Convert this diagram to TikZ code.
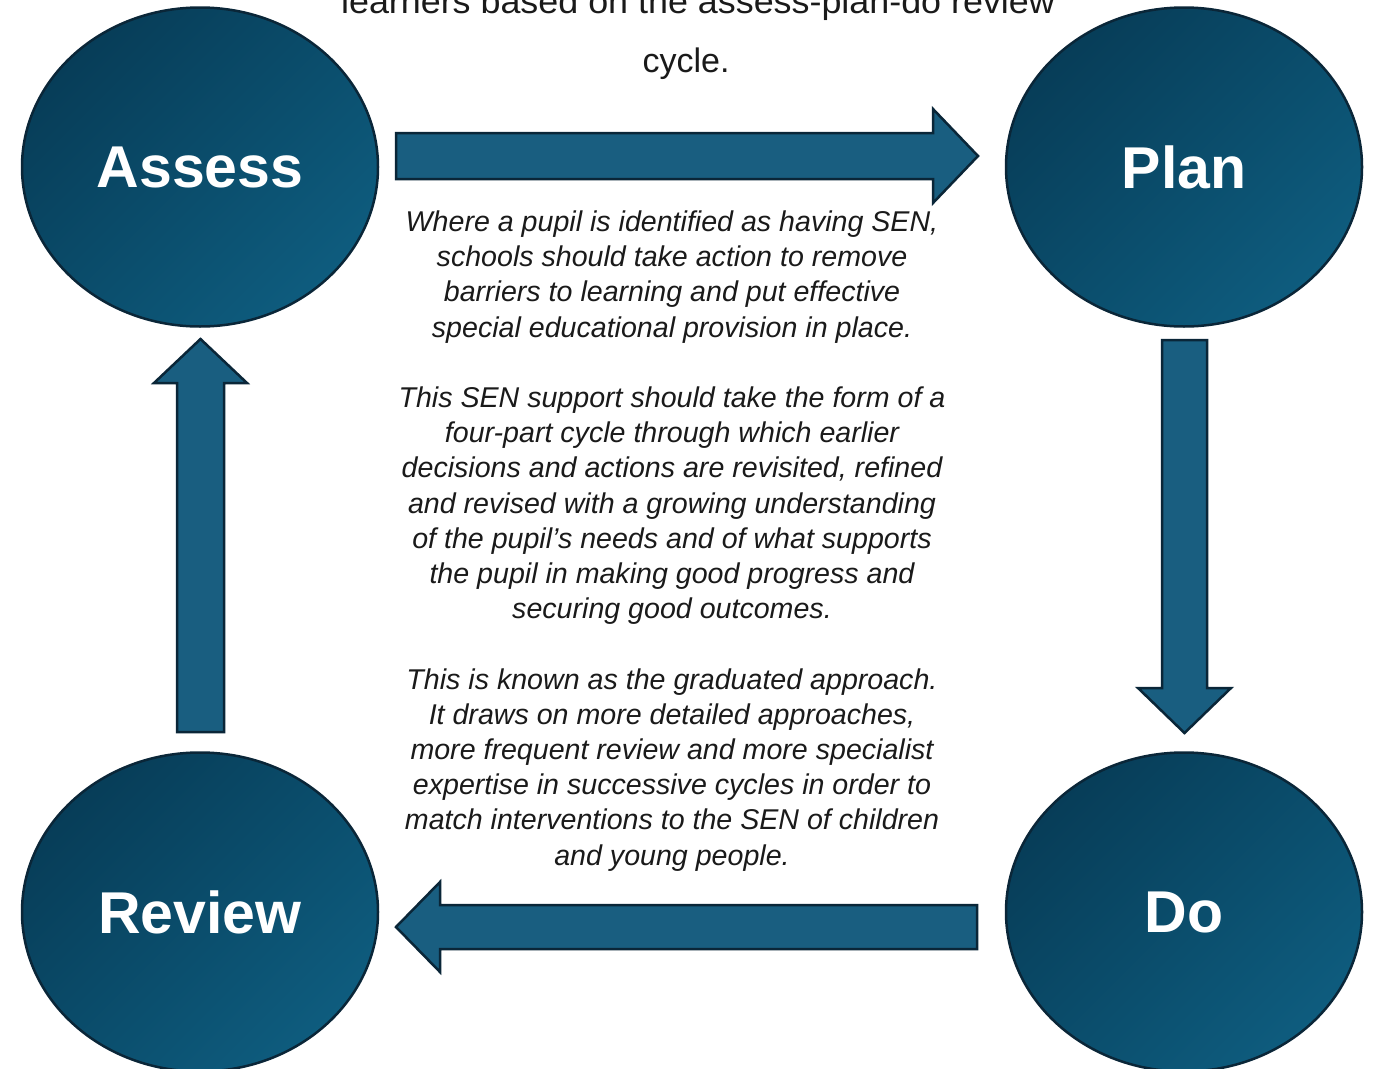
\documentclass[tikz,border=0pt]{standalone}
\usepackage{fontspec}
\setmainfont{Liberation Sans}
\usetikzlibrary{shapes.geometric}
\definecolor{cdark}{HTML}{073D58}
\definecolor{clight}{HTML}{0E5C7E}
\definecolor{carrow}{HTML}{195E80}
\definecolor{cborder}{HTML}{0A2638}
\definecolor{ctext}{HTML}{1A1A1A}
\begin{document}
\begin{tikzpicture}[x=1pt,y=-1pt,
  stage/.style={ellipse, minimum width=356pt, minimum height=319pt, inner sep=0pt,
    draw=cborder, line width=2.5pt, top color=cdark, bottom color=clight, shading angle=45,
    text=white, font=\fontsize{59}{61}\selectfont\bfseries},
  blockarrow/.style={fill=carrow, draw=cborder, line width=2.5pt, line join=miter},
  caption/.style={text=ctext, inner sep=0pt, font=\fontsize{34}{40}\selectfont},
  bodytext/.style={text=ctext, inner sep=0pt, align=center, font=\itshape\fontsize{28.6}{35.2}\selectfont}]
\useasboundingbox (0,0) rectangle (1373,1068);
\clip (0,0) rectangle (1373,1068);
\fill[white] (0,0) rectangle (1373,1068);

\node (cap1) [caption, anchor=base] at (698,13) {\scalebox{1.055}[1]{learners based on the assess-plan-do review}};
\node (cap2) [caption, anchor=base] at (686,72) {cycle.};

\node (assess) [stage] at (200,167) {Assess};
\node (plan)   [stage] at (1184,167) {Plan};
\node (review) [stage] at (200,912) {Review};
\node (do)     [stage] at (1184,912) {Do};

% Assess -> Plan
\draw[blockarrow] (396,133) -- (933,133) -- (933,109) -- (978,156) -- (933,203) -- (933,179) -- (396,179) -- cycle;
% Plan -> Do
\draw[blockarrow] (1162,340) -- (1207,340) -- (1207,688) -- (1231,688) -- (1184.5,733) -- (1138,688) -- (1162,688) -- cycle;
% Do -> Review
\draw[blockarrow] (977,905) -- (440,905) -- (440,882) -- (396,927) -- (440,972) -- (440,949) -- (977,949) -- cycle;
% Review -> Assess
\draw[blockarrow] (177,732) -- (177,383) -- (154,383) -- (200.5,339) -- (247,383) -- (224,383) -- (224,732) -- cycle;

\node (body) [bodytext, anchor=north] at (672,210.5) {%
Where a pupil is identified as having SEN,\\
schools should take action to remove\\
barriers to learning and put effective\\
special educational provision in place.\\[35.2pt]
This SEN support should take the form of a\\
four-part cycle through which earlier\\
decisions and actions are revisited, refined\\
and revised with a growing understanding\\
of the pupil’s needs and of what supports\\
the pupil in making good progress and\\
securing good outcomes.\\[35.2pt]
This is known as the graduated approach.\\
It draws on more detailed approaches,\\
more frequent review and more specialist\\
expertise in successive cycles in order to\\
match interventions to the SEN of children\\
and young people.};
\end{tikzpicture}
\end{document}
